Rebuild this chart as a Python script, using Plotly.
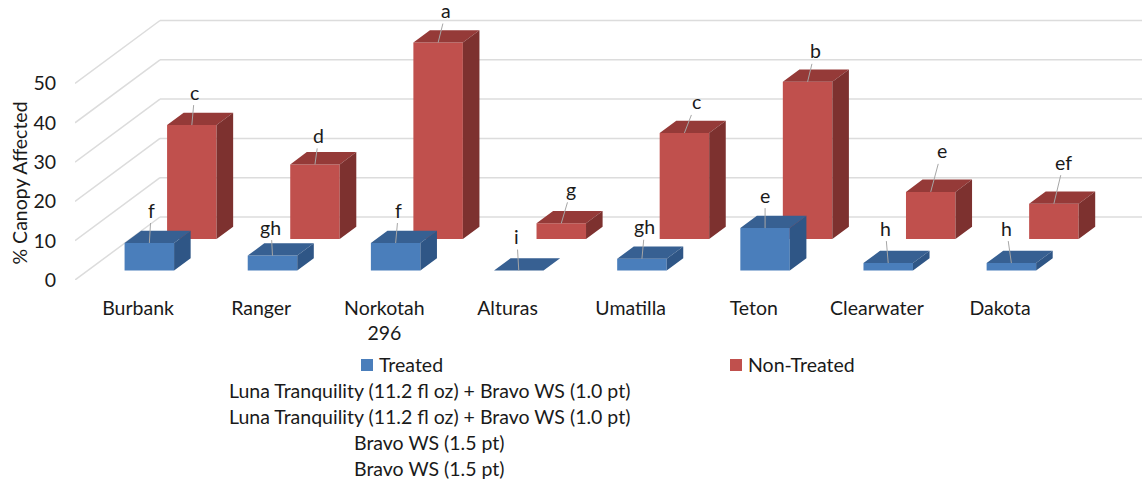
import plotly.graph_objects as go

categories = ["Burbank", "Ranger", "Norkotah<br>296", "Alturas", "Umatilla", "Teton", "Clearwater", "Dakota"]
treated = [7, 3.8, 7, 0, 3, 10.8, 1.9, 1.9]
non_treated = [29, 19, 50, 4, 27, 40, 12, 9]
treated_letters = ["f", "gh", "f", "i", "gh", "e", "h", "h"]
non_treated_letters = ["c", "d", "a", "g", "c", "b", "e", "ef"]
y_ticks = [0, 10, 20, 30, 40, 50]
legend_lines = ["Luna Tranquility (11.2 fl oz) + Bravo WS (1.0 pt)",
                "Luna Tranquility (11.2 fl oz) + Bravo WS (1.0 pt)",
                "Bravo WS (1.5 pt)", "Bravo WS (1.5 pt)"]

# label offsets (px) from the front-top centre of each bar
t_off = [(2, -31), (-1.5, -26.5), (3, -31), (-2, -32), (3, -30), (0, -31), (-3, -33), (-5, -33)]
n_off = [(3, -31), (4, -27), (8, -30), (10, -32), (12, -29), (7.5, -29), (11, -39), (10, -39.5)]

W, H = 1142, 483
FONT = "Lato"
FS = 19.5
TXT = "#1a1a1a"
PLOT_L, PLOT_B = 75, 280         # pixel position of the front-left floor corner
SLOT = 123.15                    # px per category
UNIT = 3.93                      # px per value unit
DEPTH_X, DEPTH_Y = 85 / SLOT, 63 / UNIT   # floor depth in data units
BAR_W = 49.5 / SLOT
X_MIN = -0.5
X_MAX = X_MIN + (W - PLOT_L) / SLOT
F_T, F_N = 0.15, 0.65            # depth position of each row
F_D = 0.195                      # depth of one bar


def px(x):
    return (x - PLOT_L) / (W - PLOT_L)


def py(y):
    return (PLOT_B - y) / PLOT_B


def faces(values, f):
    top_x, top_y, side_x, side_y = [], [], [], []
    dx, dy = F_D * DEPTH_X, F_D * DEPTH_Y
    base = f * DEPTH_Y
    for i, v in enumerate(values):
        l = i + f * DEPTH_X - BAR_W / 2
        r = l + BAR_W
        t = base + v
        top_x += [l, r, r + dx, l + dx, l, None]
        top_y += [t, t, t + dy, t + dy, t, None]
        side_x += [r, r + dx, r + dx, r, r, None]
        side_y += [base, base + dy, t + dy, t, base, None]
    return top_x, top_y, side_x, side_y


def add_series(fig, name, values, f, front, top, side):
    fig.add_trace(go.Bar(x=[i + f * DEPTH_X for i in range(len(values))], y=values,
                         base=[f * DEPTH_Y] * len(values), width=BAR_W, name=name,
                         marker=dict(color=front, line=dict(width=0)), showlegend=False))
    tx, ty, sx, sy = faces(values, f)
    fig.add_trace(go.Scatter(x=tx, y=ty, mode="lines", fill="toself", fillcolor=top,
                             line=dict(width=0, color=top), hoverinfo="skip", showlegend=False))
    fig.add_trace(go.Scatter(x=sx, y=sy, mode="lines", fill="toself", fillcolor=side,
                             line=dict(width=0, color=side), hoverinfo="skip", showlegend=False))


fig = go.Figure()
add_series(fig, "Non-Treated", non_treated, F_N, "#c0504d", "#953a38", "#7d312f")
add_series(fig, "Treated", treated, F_T, "#4a7ebb", "#376092", "#2f5686")

shapes = []
for v in y_ticks:
    bx, by = X_MIN + DEPTH_X, v + DEPTH_Y
    for x0, y0, x1, y1 in [(X_MIN, v, bx, by), (bx, by, X_MAX, by)]:
        shapes.append(dict(type="line", xref="x", yref="y", x0=x0, y0=y0, x1=x1, y1=y1,
                           layer="below", line=dict(color="#dcdcdc", width=1.5)))

annotations = []
for values, letters, offs, f in [(treated, treated_letters, t_off, F_T),
                                 (non_treated, non_treated_letters, n_off, F_N)]:
    for i, (v, s, o) in enumerate(zip(values, letters, offs)):
        annotations.append(dict(x=i + f * DEPTH_X, y=f * DEPTH_Y + v, xref="x", yref="y",
                                text=s, ax=o[0], ay=o[1] - 2, showarrow=True, arrowhead=0,
                                arrowwidth=1, arrowcolor="#a6a6a6", standoff=0,
                                font=dict(family=FONT, size=FS, color=TXT)))

for x, name, tx in [(361, "Treated", 377), (730, "Non-Treated", 746)]:
    color = "#4a7ebb" if name == "Treated" else "#c0504d"
    shapes.append(dict(type="rect", xref="paper", yref="paper", x0=px(x), x1=px(x + 12),
                       y0=py(371), y1=py(359), fillcolor=color, line=dict(width=0)))
    annotations.append(dict(x=px(tx), y=py(364.5), xref="paper", yref="paper", text=name,
                            showarrow=False, xanchor="left", yanchor="middle",
                            font=dict(family=FONT, size=FS, color=TXT)))

for s, y in zip(legend_lines, [390.5, 416.5, 442.5, 468.5]):
    annotations.append(dict(x=px(429), y=py(y), xref="paper", yref="paper", text=s,
                            showarrow=False, xanchor="center", yanchor="middle",
                            font=dict(family=FONT, size=FS, color=TXT)))

annotations.append(dict(x=px(18.5), y=py(183), xref="paper", yref="paper",
                        text="% Canopy Affected", textangle=-90, showarrow=False,
                        xanchor="center", yanchor="middle",
                        font=dict(family=FONT, size=FS, color=TXT)))

fig.update_layout(
    width=W, height=H, paper_bgcolor="white", plot_bgcolor="white",
    margin=dict(l=PLOT_L, r=0, t=0, b=H - PLOT_B, autoexpand=False),
    barmode="overlay", showlegend=False, shapes=shapes, annotations=annotations,
    font=dict(family=FONT, size=FS, color=TXT),
    xaxis=dict(range=[X_MIN, X_MAX], tickmode="array",
               tickvals=[i + 0.012 for i in range(len(categories))],
               ticktext=categories, showgrid=False, zeroline=False, showline=False, ticks="",
               ticklabelstandoff=14, tickangle=0, tickfont=dict(family=FONT, size=FS, color=TXT)),
    yaxis=dict(range=[0, PLOT_B / UNIT], tickmode="array", tickvals=y_ticks, showgrid=False,
               zeroline=False, showline=False, ticks="", ticklabelstandoff=18,
               tickfont=dict(family=FONT, size=FS, color=TXT)),
)

fig.write_html("out.html", config={"displayModeBar": False},
               post_script="document.body.style.margin='0';")
